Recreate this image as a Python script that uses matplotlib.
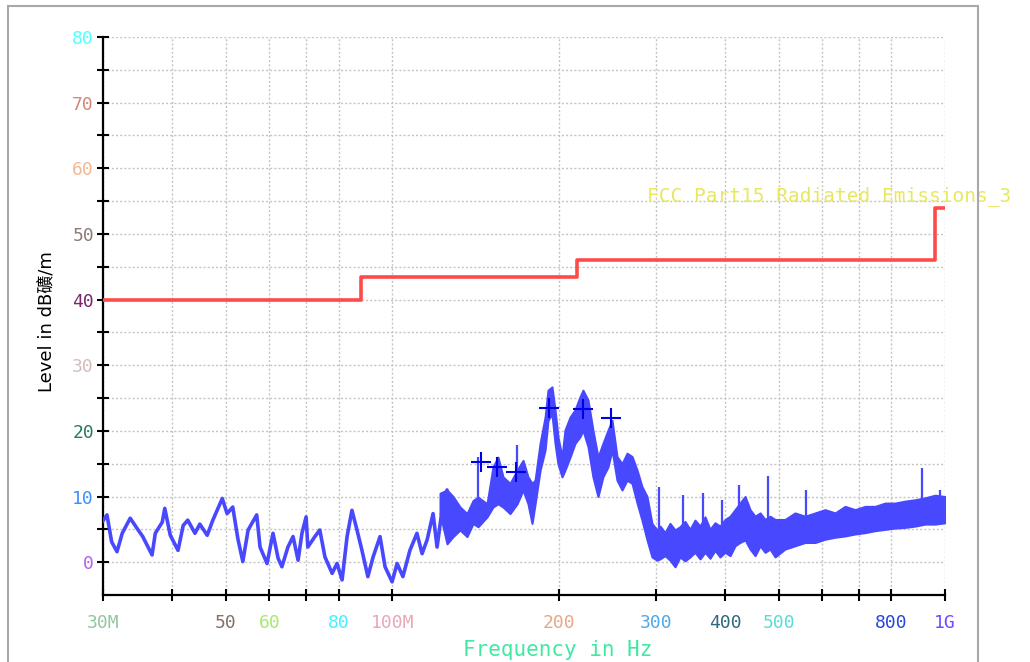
import numpy as np
import matplotlib
matplotlib.use("Agg")
import matplotlib.pyplot as plt
from matplotlib.patches import Rectangle
from matplotlib.ticker import FixedLocator, FixedFormatter, NullLocator

# measured trace, low band part (MHz, dBuV/m)
trace_freq = [30.0, 30.5, 31.1, 31.8, 32.5, 33.6, 34.6, 35.4, 36.8, 37.3, 38.4, 38.8,
              39.7, 41.0, 41.9, 42.7, 44.0, 44.9, 46.3, 47.4, 49.3, 50.3, 51.5, 52.6,
              53.7, 54.9, 56.9, 57.7, 59.4, 60.9, 62.2, 63.2, 64.8, 66.2, 67.6, 68.7,
              69.9, 70.4, 72.5, 74.0, 75.6, 77.9, 79.5, 81.2, 82.9, 84.6, 86.4, 88.2,
              90.4, 92.4, 95.1, 97.1, 100.0, 102.1, 104.6, 107.7, 110.9, 113.3, 115.7,
              118.6, 120.6, 123.1, 125.7, 127.3]
trace_level = [6.3, 7.2, 3.1, 1.6, 4.4, 6.7, 5.1, 3.9, 1.1, 4.4, 6.1, 8.2,
               4.1, 1.8, 5.6, 6.4, 4.4, 5.8, 4.1, 6.4, 9.7, 7.4, 8.4, 3.6,
               0.1, 4.9, 7.2, 2.3, -0.2, 4.4, 0.6, -0.7, 2.3, 3.9, 0.3, 4.4,
               6.9, 2.3, 3.9, 4.9, 0.8, -1.7, -0.2, -2.7, 3.9, 7.9, 4.9, 1.8,
               -2.2, 0.8, 3.9, -0.7, -3.0, -0.2, -2.2, 1.8, 4.4, 1.3, 3.4,
               7.4, 2.3, 7.9, 11.0, 3.9]

# measured trace, upper part drawn as min/max envelope
band_freq = [122.1, 125.7, 128.9, 132.7, 136.6, 140.1, 143.0, 148.5, 152.2, 155.4,
             158.7, 163.4, 168.3, 172.5, 176.1, 179.1, 181.4, 185.2, 189.1, 191.4,
             194.6, 197.1, 199.5, 202.9, 205.4, 209.8, 214.2, 218.7, 221.4, 226.1,
             230.8, 235.7, 240.6, 245.7, 249.9, 255.1, 260.5, 266.0, 271.6, 277.4,
             283.1, 289.1, 295.1, 301.4, 305.2, 311.6, 318.1, 324.9, 331.6, 338.6,
             345.8, 353.0, 360.5, 368.1, 375.8, 383.7, 391.8, 400.0, 408.6, 417.1,
             425.8, 434.9, 444.0, 453.4, 463.0, 472.6, 482.5, 492.8, 513.5, 535.4,
             558.3, 582.1, 606.8, 632.7, 659.6, 687.7, 716.8, 747.4, 779.1, 812.3,
             846.8, 882.9, 920.3, 959.5, 1000.0]
band_hi = [10.5, 11.0, 10.0, 8.4, 7.4, 9.4, 9.9, 8.9, 14.5, 16.0,
           13.0, 12.0, 14.0, 15.5, 13.0, 12.0, 12.5, 18.1, 22.1, 26.2,
           26.7, 23.2, 19.1, 16.0, 20.1, 22.1, 23.2, 25.2, 26.2, 24.7,
           20.1, 16.0, 18.1, 20.1, 21.6, 16.1, 15.0, 16.6, 16.1, 14.0,
           11.5, 10.0, 5.9, 4.9, 5.5, 4.5, 5.9, 4.9, 5.4, 6.2,
           5.0, 6.4, 5.5, 6.9, 5.0, 6.0, 5.5, 6.5, 7.0, 8.0,
           9.0, 10.0, 8.0, 7.0, 7.5, 6.5, 7.0, 6.5, 6.5, 7.5,
           7.0, 7.5, 8.0, 7.5, 8.5, 8.0, 8.5, 8.5, 9.0, 9.0,
           9.3, 9.5, 9.8, 10.2, 10.0]
band_lo = [7.4, 2.8, 3.9, 4.9, 3.9, 5.9, 5.4, 6.9, 8.4, 8.9,
           8.4, 7.4, 8.9, 11.0, 8.9, 5.9, 8.9, 14.0, 17.1, 21.6,
           22.6, 18.1, 15.0, 13.0, 14.0, 16.0, 18.1, 19.1, 20.1, 17.6,
           13.0, 10.0, 13.0, 14.5, 17.1, 12.5, 11.0, 12.5, 12.0, 9.0,
           6.4, 3.4, 0.8, 0.3, 0.5, 1.0, 0.3, -0.7, 0.8, 0.2,
           0.8, 1.5, 0.5, 1.5, 0.6, 1.8, 0.8, 1.5, 1.0, 2.5,
           3.0, 3.4, 2.0, 1.0, 2.5, 1.5, 2.0, 0.8, 2.0, 2.5,
           3.0, 3.0, 3.5, 3.8, 4.0, 4.3, 4.5, 4.8, 5.0, 5.2,
           5.3, 5.5, 5.8, 5.8, 6.0]

# narrow spikes above the envelope
spike_freq = [143.0, 168.3, 303.9, 335.9, 365.1, 395.1, 424.2, 478.6, 560.6, 908.6, 979.5]
spike_level = [16.0, 17.8, 11.5, 10.2, 10.5, 9.4, 11.7, 13.2, 11.0, 14.3, 11.0]

# peak markers
peak_freq = [144.8, 154.8, 167.5, 192.2, 221.4, 248.9]
peak_level = [15.2, 14.5, 13.7, 23.5, 23.3, 21.9]

# FCC Part 15 class B, 3 m
limit_freq = [30, 88, 216, 960, 1000]
limit_level = [40, 43.5, 46, 54, 54]

x_ticks = [30, 40, 50, 60, 70, 80, 100, 200, 300, 400, 500, 600, 700, 800, 1000]
x_labels = ["30M", "", "50", "60", "", "80", "100M", "200", "300", "400", "500", "", "", "800", "1G"]
x_colors = ["#90c8a0", "k", "#847068", "#a8e870", "k", "#48f0ff", "#e8a8b8", "#e8a888",
            "#50a8e8", "#306880", "#58dcd8", "k", "k", "#2848d8", "#7448ff"]
y_ticks = [0, 10, 20, 30, 40, 50, 60, 70, 80]
y_colors = ["#b460f0", "#3c90ff", "#2e7a60", "#d4bcbc", "#782868", "#8c7c74",
            "#f4b890", "#d08878", "#50ffff"]

mono = "DejaVu Sans Mono"
blue = "#4848ff"

fig = plt.figure(figsize=(10.3, 6.62), dpi=100)
fig.patches.append(Rectangle((8 / 1030, -0.05), 970 / 1030, 1.05 - 6 / 662,
                             transform=fig.transFigure, fill=False,
                             edgecolor="#a8a8a8", linewidth=1.5))
ax = fig.add_axes([103 / 1030, 67 / 662, 842 / 1030, 558 / 662])

ax.set_xscale("log")
ax.set_xlim(30, 1000)
ax.set_ylim(-5, 80)

ax.xaxis.set_major_locator(FixedLocator(x_ticks))
ax.xaxis.set_major_formatter(FixedFormatter(x_labels))
ax.xaxis.set_minor_locator(NullLocator())
ax.yaxis.set_major_locator(FixedLocator(y_ticks))
ax.yaxis.set_minor_locator(FixedLocator(np.arange(5, 80, 10)))

ax.grid(True, which="both", color="#c4c4c4", linestyle=(0, (1.5, 1.5)), linewidth=1)
ax.set_axisbelow(True)
for s in ["top", "right"]:
    ax.spines[s].set_visible(False)
for s in ["left", "bottom"]:
    ax.spines[s].set_linewidth(1.6)
ax.tick_params(which="both", direction="inout", length=9, width=1.5, colors="k")
ax.tick_params(axis="x", pad=9)
ax.tick_params(axis="y", pad=2)

for lab, c in zip(ax.get_xticklabels(), x_colors):
    lab.set_color(c)
    lab.set_fontfamily(mono)
    lab.set_fontsize(13)
for lab, c in zip(ax.get_yticklabels(), y_colors):
    lab.set_color(c)
    lab.set_fontfamily(mono)
    lab.set_fontsize(13)

ax.plot(trace_freq, trace_level, color=blue, linewidth=2.6, zorder=3)
ax.fill_between(band_freq, band_lo, band_hi, color=blue, linewidth=1.5,
                edgecolor=blue, zorder=3)
ax.vlines(spike_freq, np.interp(np.log10(spike_freq), np.log10(band_freq), band_lo),
          spike_level, color=blue, linewidth=1.6, zorder=3)
ax.plot(peak_freq, peak_level, linestyle="none", marker="+", markersize=14,
        markeredgewidth=1.5, color="#0000e6", zorder=4)
ax.plot(limit_freq, limit_level, drawstyle="steps-post", color="#ff4a4a",
        linewidth=2.6, zorder=4)

ax.text(0.646, 0.715, "FCC Part15 Radiated Emissions_3", transform=ax.transAxes,
        color="#e8e860", fontsize=14, family=mono, va="center", ha="left",
        clip_on=False)

ax.set_xlabel("Frequency in Hz", color="#40e8a0", fontsize=15, family=mono)
ax.xaxis.set_label_coords(0.54, -0.08)
ax.set_ylabel("Level in dB礦/m", fontsize=13, family=["DejaVu Sans", "Noto Sans CJK SC"])
ax.yaxis.set_label_coords(-0.056, 0.49)

fig.savefig("out.png", dpi=100)
